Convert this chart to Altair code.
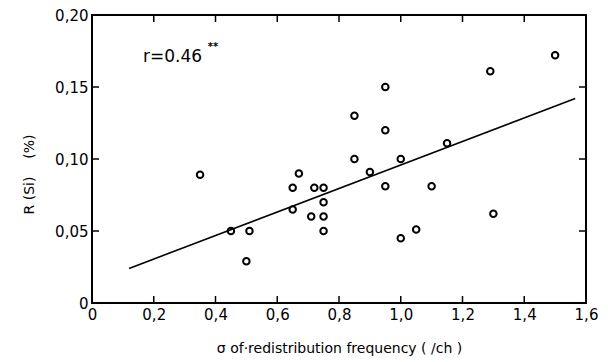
import altair as alt
import pandas as pd

# scatter data
sigma = [0.35, 0.45, 0.51, 0.50, 0.65, 0.67, 0.65, 0.72, 0.75, 0.71, 0.75, 0.75, 0.75,
         0.95, 0.85, 0.95, 0.85, 1.00, 0.90, 1.15, 0.95, 1.10, 1.05, 1.00,
         1.29, 1.50, 1.30]
r_si = [0.089, 0.050, 0.050, 0.029, 0.080, 0.090, 0.065, 0.080, 0.080, 0.060, 0.070, 0.060, 0.050,
        0.150, 0.130, 0.120, 0.100, 0.100, 0.091, 0.111, 0.081, 0.081, 0.051, 0.045,
        0.161, 0.172, 0.062]

# regression line end points
line_x = [0.12, 1.565]
line_y = [0.024, 0.142]

x_ticks = [0, 0.2, 0.4, 0.6, 0.8, 1.0, 1.2, 1.4, 1.6]
y_ticks = [0, 0.05, 0.10, 0.15, 0.20]
x_inner_ticks = [0.2, 0.4, 0.6, 0.8, 1.0, 1.2, 1.4]
y_inner_ticks = [0.05, 0.10, 0.15]

FONT = "DejaVu Sans"

pts = pd.DataFrame({"x": sigma, "y": r_si})
ln = pd.DataFrame({"x": line_x, "y": line_y})
xt = pd.DataFrame({"x": x_inner_ticks})
yt = pd.DataFrame({"y": y_inner_ticks})

xscale = alt.Scale(domain=[0, 1.6], nice=False, zero=False)
yscale = alt.Scale(domain=[0, 0.2], nice=False, zero=False)

xaxis = alt.Axis(values=x_ticks, title="σ of·redistribution frequency ( /ch )",
                 labelExpr="datum.value == 0 ? '0' : replace(format(datum.value, '.1f'), '.', ',')",
                 grid=False, domain=False, ticks=False, labelPadding=4, titlePadding=19,
                 labelFontSize=15, titleFontSize=14, labelColor="black", titleColor="black",
                 titleFontWeight="normal", labelFlush=False)
yaxis = alt.Axis(values=y_ticks, title="R (Si)\u00a0\u00a0\u00a0\u00a0(%)",
                 labelExpr="datum.value == 0 ? '0' : replace(format(datum.value, '.2f'), '.', ',')",
                 grid=False, domain=False, ticks=False, labelPadding=4, titlePadding=18,
                 titleY=159,
                 labelFontSize=15, titleFontSize=14, labelColor="black", titleColor="black",
                 titleFontWeight="normal", labelFlush=False)

points = alt.Chart(pts).mark_point(shape="circle", filled=False, size=42, strokeWidth=2,
                                   color="black", opacity=1).encode(
    x=alt.X("x:Q", scale=xscale, axis=xaxis),
    y=alt.Y("y:Q", scale=yscale, axis=yaxis),
)

reg = alt.Chart(ln).mark_line(color="black", strokeWidth=1.6).encode(
    x=alt.X("x:Q", scale=xscale), y=alt.Y("y:Q", scale=yscale))

tick_style = dict(color="black", thickness=1.5, size=8, opacity=1)
bottom_t = alt.Chart(xt).mark_tick(orient="vertical", yOffset=-3, **tick_style).encode(
    x=alt.X("x:Q", scale=xscale), y=alt.datum(0, scale=yscale))
top_t = alt.Chart(xt).mark_tick(orient="vertical", yOffset=3, **tick_style).encode(
    x=alt.X("x:Q", scale=xscale), y=alt.datum(0.2, scale=yscale))
left_t = alt.Chart(yt).mark_tick(orient="horizontal", xOffset=3, **tick_style).encode(
    y=alt.Y("y:Q", scale=yscale), x=alt.datum(0, scale=xscale))
right_t = alt.Chart(yt).mark_tick(orient="horizontal", xOffset=-3, **tick_style).encode(
    y=alt.Y("y:Q", scale=yscale), x=alt.datum(1.6, scale=xscale))

ann = pd.DataFrame({"x": [0.165], "y": [0.171], "t": ["r=0.46"]})
ann2 = pd.DataFrame({"x": [0.375], "y": [0.1775], "t": ["**"]})
txt = alt.Chart(ann).mark_text(align="left", baseline="middle", fontSize=17, font=FONT,
                               color="black").encode(
    x=alt.X("x:Q", scale=xscale), y=alt.Y("y:Q", scale=yscale), text="t:N")
txt2 = alt.Chart(ann2).mark_text(align="left", baseline="middle", fontSize=10, font=FONT,
                                 color="black", fontWeight="bold").encode(
    x=alt.X("x:Q", scale=xscale), y=alt.Y("y:Q", scale=yscale), text="t:N")

chart = alt.layer(reg, points, bottom_t, top_t, left_t, right_t, txt, txt2).properties(
    width=494, height=288,
    autosize=alt.AutoSizeParams(type="none"),
    padding={"left": 84, "top": 7, "right": 14, "bottom": 56},
    background="white",
).configure_view(stroke="black", strokeWidth=2).configure_axis(
    labelFont=FONT, titleFont=FONT)

chart.save("out.html", embed_options={"renderer": "svg", "actions": False})
